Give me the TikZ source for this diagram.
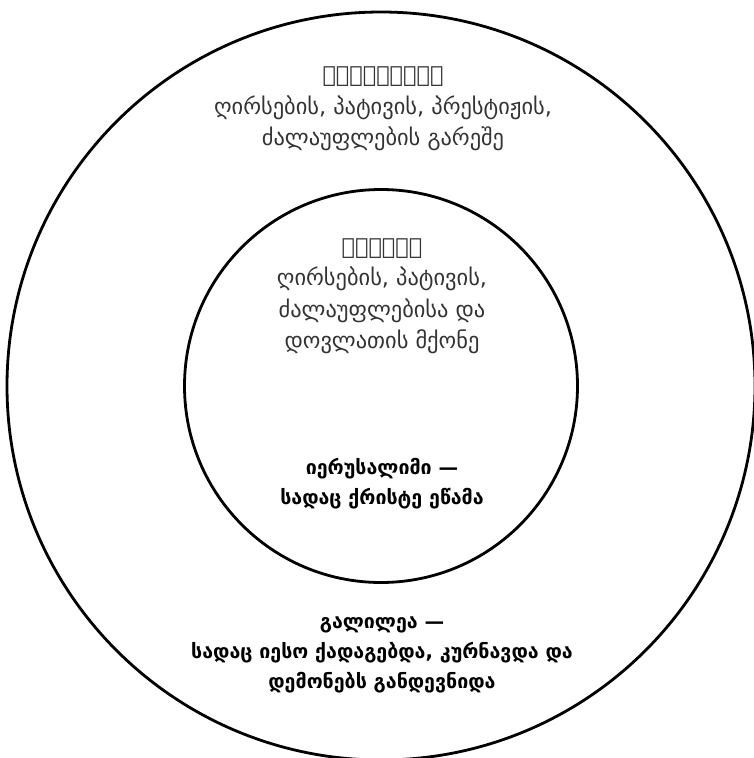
\documentclass[tikz,border=0pt]{standalone}
\usepackage{fontspec}
\setmainfont{DejaVu Sans}
\usetikzlibrary{positioning}

\begin{document}
\begin{tikzpicture}[x=1pt,y=-1pt]
  \useasboundingbox (0,0) rectangle (753,758);
  \begin{scope}[every node/.style={circle,draw,line width=2.8pt,inner sep=0pt}]
    \node (outer) [minimum size=748pt] at (381,386) {};
    \node (inner) [minimum size=393pt] at (381,386) {};
  \end{scope}
  \begin{scope}[every node/.style={align=center,inner sep=0pt,
      font=\fontsize{22.4}{31.5}\selectfont}]
    \node (periphery) [text=black!80] at (383,109)
      {ᲞᲔᲠᲘᲤᲔᲠᲘᲐ\\ღირსების, პატივის, პრესტიჟის,\\ძალაუფლების გარეშე};
    \node (centre) [text=black!80] at (382,296)
      {ᲪᲔᲜᲢᲠᲘ\\ღირსების, პატივის,\\ძალაუფლებისა და\\დოვლათის მქონე};
    \node (jerusalem) [font=\fontsize{19.6}{30}\selectfont\bfseries] at (382,483.5)
      {იერუსალიმი —\\სადაც ქრისტე ეწამა};
    \node (galilee) [font=\fontsize{19.6}{30}\selectfont\bfseries] at (382,655)
      {გალილეა —\\სადაც იესო ქადაგებდა, კურნავდა და\\დემონებს განდევნიდა};
  \end{scope}
\end{tikzpicture}
\end{document}
